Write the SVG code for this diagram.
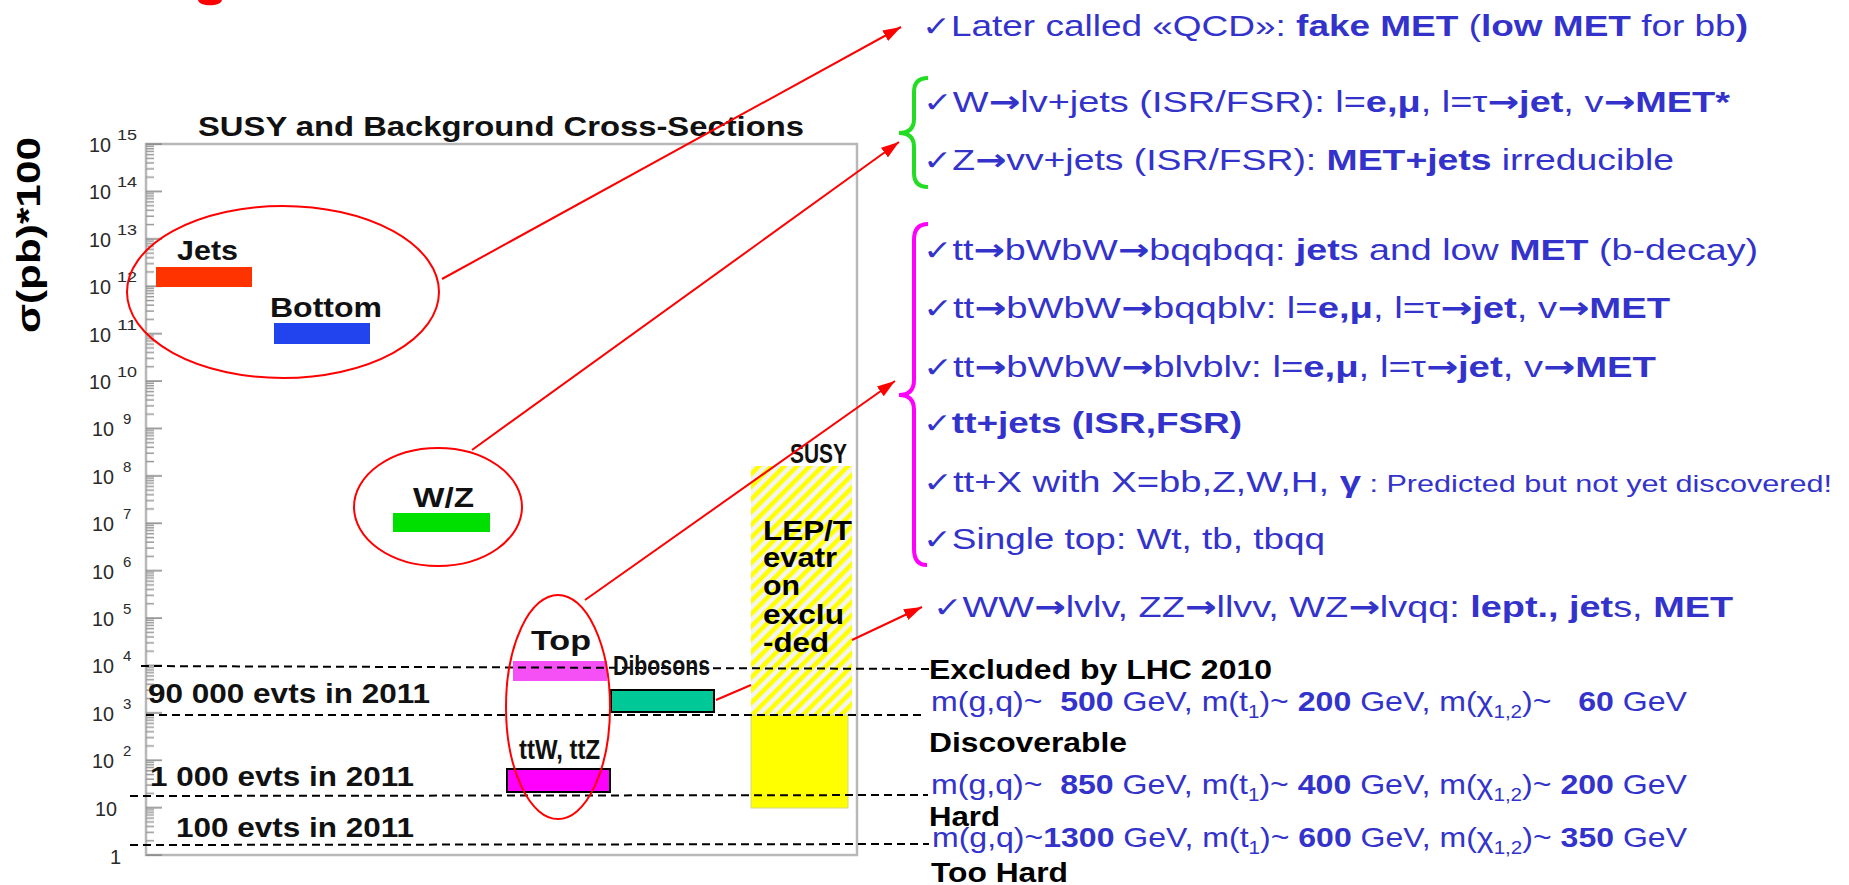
<svg xmlns="http://www.w3.org/2000/svg" width="1849" height="885" viewBox="0 0 1849 885">
<defs>
<style>
text{font-family:'Liberation Sans',Arial,'DejaVu Sans',sans-serif;}
.ax{font-size:20px;fill:#2a2a2a;}
.sup{font-size:15px;fill:#2a2a2a;}
.lbl{font-weight:bold;fill:#111;font-size:28px;}
.blue{fill:#3333cc;font-size:30px;}
.mline{fill:#3333cc;font-size:28px;}
.b{font-weight:bold;}
.ck{font-family:'DejaVu Sans',sans-serif;font-size:28px;font-weight:normal;}
.ar{font-family:'DejaVu Sans',sans-serif;font-weight:bold;}
.blk{font-weight:bold;fill:#000;font-size:28px;}
.ell{fill:none;stroke:#ff0000;stroke-width:2;}
.dash{stroke:#000;stroke-width:2;stroke-dasharray:8 5;fill:none;}
.arrow{stroke:#ff0000;stroke-width:2;fill:none;marker-end:url(#ah);}
.bar{stroke:#000;stroke-width:2;}
</style>
<marker id="ah" markerUnits="userSpaceOnUse" markerWidth="20" markerHeight="14" refX="18" refY="7" orient="auto">
<path d="M0,1 L18,7 L0,13 z" fill="#ff0000"/>
</marker>
<pattern id="ticks" patternUnits="userSpaceOnUse" x="146" y="143" width="20" height="47.4">
<rect x="0" y="0.3" width="16" height="1.6" fill="#8c8c8c"/>
<rect x="0" y="33.4" width="8" height="1.5" fill="#999999"/>
<rect x="0" y="25.1" width="8" height="1.5" fill="#999999"/>
<rect x="0" y="19.2" width="8" height="1.5" fill="#999999"/>
<rect x="0" y="14.6" width="8" height="1.5" fill="#999999"/>
<rect x="0" y="10.8" width="8" height="1.5" fill="#999999"/>
<rect x="0" y="7.6" width="8" height="1.5" fill="#999999"/>
<rect x="0" y="4.9" width="8" height="1.5" fill="#999999"/>
<rect x="0" y="2.5" width="8" height="1.5" fill="#999999"/>
</pattern>
<pattern id="hatch" patternUnits="userSpaceOnUse" width="9" height="9" patternTransform="rotate(45)">
<rect width="9" height="9" fill="#f3f3f3"/>
<rect width="4.5" height="9" fill="#ffff00"/>
</pattern>
</defs>
<rect width="1849" height="885" fill="#ffffff"/>
<path d="M198,0 C199,7 221,7 222,0 Z" fill="#ff0000"/>

<g id="y-axis-label">
<text class="b" font-size="34" fill="#000" transform="translate(40,333) rotate(-90)" textLength="196" lengthAdjust="spacingAndGlyphs">σ(pb)*100</text>
</g>

<g id="chart-frame">
<rect x="146" y="144" width="711" height="711" fill="none" stroke="#b8b8b8" stroke-width="2.5"/>
<rect x="146" y="143" width="17" height="713" fill="url(#ticks)"/>
<text class="ax" x="89" y="152" textLength="22" lengthAdjust="spacingAndGlyphs">10</text><text class="sup" x="117" y="140" textLength="20" lengthAdjust="spacingAndGlyphs">15</text>
<text class="ax" x="89" y="199.4" textLength="22" lengthAdjust="spacingAndGlyphs">10</text><text class="sup" x="117" y="187.4" textLength="20" lengthAdjust="spacingAndGlyphs">14</text>
<text class="ax" x="89" y="246.8" textLength="22" lengthAdjust="spacingAndGlyphs">10</text><text class="sup" x="117" y="234.8" textLength="20" lengthAdjust="spacingAndGlyphs">13</text>
<text class="ax" x="89" y="294.2" textLength="22" lengthAdjust="spacingAndGlyphs">10</text><text class="sup" x="117" y="282.2" textLength="20" lengthAdjust="spacingAndGlyphs">12</text>
<text class="ax" x="89" y="341.6" textLength="22" lengthAdjust="spacingAndGlyphs">10</text><text class="sup" x="117" y="329.6" textLength="20" lengthAdjust="spacingAndGlyphs">11</text>
<text class="ax" x="89" y="389" textLength="22" lengthAdjust="spacingAndGlyphs">10</text><text class="sup" x="117" y="377" textLength="20" lengthAdjust="spacingAndGlyphs">10</text>
<text class="ax" x="92" y="436.4" textLength="22" lengthAdjust="spacingAndGlyphs">10</text><text class="sup" x="123" y="424.4">9</text>
<text class="ax" x="92" y="483.8" textLength="22" lengthAdjust="spacingAndGlyphs">10</text><text class="sup" x="123" y="471.8">8</text>
<text class="ax" x="92" y="531.2" textLength="22" lengthAdjust="spacingAndGlyphs">10</text><text class="sup" x="123" y="519.2">7</text>
<text class="ax" x="92" y="578.6" textLength="22" lengthAdjust="spacingAndGlyphs">10</text><text class="sup" x="123" y="566.6">6</text>
<text class="ax" x="92" y="626" textLength="22" lengthAdjust="spacingAndGlyphs">10</text><text class="sup" x="123" y="614">5</text>
<text class="ax" x="92" y="673.4" textLength="22" lengthAdjust="spacingAndGlyphs">10</text><text class="sup" x="123" y="661.4">4</text>
<text class="ax" x="92" y="720.8" textLength="22" lengthAdjust="spacingAndGlyphs">10</text><text class="sup" x="123" y="708.8">3</text>
<text class="ax" x="92" y="768.2" textLength="22" lengthAdjust="spacingAndGlyphs">10</text><text class="sup" x="123" y="756.2">2</text>
<text class="ax" x="95" y="815.6" textLength="22" lengthAdjust="spacingAndGlyphs">10</text>
<text class="ax" x="110" y="864">1</text>
<text class="lbl" x="198" y="136" font-size="29" textLength="606" lengthAdjust="spacingAndGlyphs">SUSY and Background Cross-Sections</text>
</g>

<g id="jets">
<rect x="156" y="267" width="96" height="20" fill="#ff3300"/>
<text class="lbl" x="177" y="260" textLength="61" lengthAdjust="spacingAndGlyphs">Jets</text>
</g>
<g id="bottom">
<rect x="274" y="323" width="96" height="21" fill="#2244ee"/>
<text class="lbl" x="270" y="317" textLength="112" lengthAdjust="spacingAndGlyphs">Bottom</text>
</g>
<g id="wz">
<rect x="393" y="513" width="97" height="19" fill="#00e000"/>
<text class="lbl" x="413" y="507" textLength="61" lengthAdjust="spacingAndGlyphs">W/Z</text>
</g>
<g id="top">
<rect x="513" y="661" width="94" height="20" fill="#f550f5"/>
<text class="lbl" x="531" y="650" textLength="60" lengthAdjust="spacingAndGlyphs">Top</text>
</g>
<g id="ttwz">
<rect class="bar" x="507" y="769" width="103" height="23" fill="#ff00ff"/>
<text class="lbl" x="519" y="759" font-size="20" textLength="81" lengthAdjust="spacingAndGlyphs">ttW, ttZ</text>
</g>
<g id="dibosons">
<rect class="bar" x="611" y="690" width="103" height="22" fill="#00c896"/>
</g>

<g id="susy">
<text class="lbl" x="790" y="463" font-size="20" textLength="57" lengthAdjust="spacingAndGlyphs">SUSY</text>
<rect x="751" y="466" width="101" height="249" fill="url(#hatch)"/>
<rect x="751" y="715" width="97" height="93" fill="#ffff00" stroke="#d6d690" stroke-width="1"/>
<text class="blk" x="763" y="540" font-size="29" textLength="89" lengthAdjust="spacingAndGlyphs">LEP/T</text>
<text class="blk" x="763" y="567" font-size="29" textLength="74" lengthAdjust="spacingAndGlyphs">evatr</text>
<text class="blk" x="763" y="595" font-size="29" textLength="37" lengthAdjust="spacingAndGlyphs">on</text>
<text class="blk" x="763" y="624" font-size="29" textLength="81" lengthAdjust="spacingAndGlyphs">exclu</text>
<text class="blk" x="763" y="652" font-size="29" textLength="66" lengthAdjust="spacingAndGlyphs">-ded</text>
</g>

<g id="thresholds">
<path class="dash" d="M141,666 L929,669"/>
<path class="dash" d="M146,715 L922,715"/>
<path class="dash" d="M130,796 L928,795"/>
<path class="dash" d="M130,845 L929,844"/>
</g>

<g id="dibosons-label">
<text class="lbl" x="613" y="675" font-size="20" textLength="97" lengthAdjust="spacingAndGlyphs">Dibosons</text>
</g>

<g id="event-labels">
<text class="lbl" x="148" y="703" textLength="282" lengthAdjust="spacingAndGlyphs">90 000 evts in 2011</text>
<text class="lbl" x="150" y="786" textLength="264" lengthAdjust="spacingAndGlyphs">1 000 evts in 2011</text>
<text class="lbl" x="176" y="837" textLength="238" lengthAdjust="spacingAndGlyphs">100 evts in 2011</text>
</g>

<g id="ellipse-qcd"><ellipse class="ell" cx="283" cy="292" rx="156" ry="86"/></g>
<g id="ellipse-wz"><ellipse class="ell" cx="438" cy="507" rx="84" ry="59"/></g>
<g id="ellipse-top"><ellipse class="ell" cx="558" cy="707" rx="52" ry="112"/></g>

<g id="qcd-text">
<text class="blue" x="922" y="36" textLength="826" lengthAdjust="spacingAndGlyphs"><tspan class="ck">✓</tspan>Later called «QCD»: <tspan class="b">fake MET</tspan> (<tspan class="b">low MET</tspan> for bb<tspan class="b">)</tspan></text>
</g>

<g id="wz-text">
<path d="M928,78 Q914,78 914,92 L914,119 Q914,133 899,133 Q914,133 914,147 L914,173 Q914,187 928,187" fill="none" stroke="#22dd22" stroke-width="4"/>
<text class="blue" x="923" y="112" textLength="807" lengthAdjust="spacingAndGlyphs"><tspan class="ck">✓</tspan>W<tspan class="ar">→</tspan>lv+jets (ISR/FSR): l=<tspan class="b">e,μ</tspan>, l=τ<tspan class="ar">→</tspan><tspan class="b">jet</tspan>, v<tspan class="ar">→</tspan><tspan class="b">MET*</tspan></text>
<text class="blue" x="923" y="170" textLength="751" lengthAdjust="spacingAndGlyphs"><tspan class="ck">✓</tspan>Z<tspan class="ar">→</tspan>vv+jets (ISR/FSR): <tspan class="b">MET+jets</tspan> irreducible</text>
</g>

<g id="top-text">
<path d="M928,224 Q914,224 914,240 L914,380 Q914,395 899,395 Q914,395 914,410 L914,549 Q914,565 927,565" fill="none" stroke="#ff00ff" stroke-width="4"/>
<text class="blue" x="923" y="260" textLength="835" lengthAdjust="spacingAndGlyphs"><tspan class="ck">✓</tspan>tt<tspan class="ar">→</tspan>bWbW<tspan class="ar">→</tspan>bqqbqq: <tspan class="b">jet</tspan>s and low <tspan class="b">MET</tspan> (b-decay)</text>
<text class="blue" x="923" y="318" textLength="747" lengthAdjust="spacingAndGlyphs"><tspan class="ck">✓</tspan>tt<tspan class="ar">→</tspan>bWbW<tspan class="ar">→</tspan>bqqblv: l=<tspan class="b">e,μ</tspan>, l=τ<tspan class="ar">→</tspan><tspan class="b">jet</tspan>, v<tspan class="ar">→</tspan><tspan class="b">MET</tspan></text>
<text class="blue" x="923" y="377" textLength="733" lengthAdjust="spacingAndGlyphs"><tspan class="ck">✓</tspan>tt<tspan class="ar">→</tspan>bWbW<tspan class="ar">→</tspan>blvblv: l=<tspan class="b">e,μ</tspan>, l=τ<tspan class="ar">→</tspan><tspan class="b">jet</tspan>, v<tspan class="ar">→</tspan><tspan class="b">MET</tspan></text>
<text class="blue b" x="923" y="433" textLength="319" lengthAdjust="spacingAndGlyphs"><tspan class="ck">✓</tspan>tt+jets (ISR,FSR)</text>
<text class="blue" x="923" y="492" textLength="909" lengthAdjust="spacingAndGlyphs"><tspan class="ck">✓</tspan>tt+X with X=bb,Z,W,H, <tspan class="b">γ</tspan><tspan font-size="24"> : Predicted but not yet discovered!</tspan></text>
<text class="blue" x="923" y="549" textLength="402" lengthAdjust="spacingAndGlyphs"><tspan class="ck">✓</tspan>Single top: Wt, tb, tbqq</text>
</g>

<g id="diboson-text">
<text class="blue" x="933" y="617" textLength="800" lengthAdjust="spacingAndGlyphs"><tspan class="ck">✓</tspan>WW<tspan class="ar">→</tspan>lvlv, ZZ<tspan class="ar">→</tspan>llvv, WZ<tspan class="ar">→</tspan>lvqq: <tspan class="b">lept., jet</tspan>s, <tspan class="b">MET</tspan></text>
</g>

<g id="susy-reach">
<text class="blk" x="929" y="679" textLength="343" lengthAdjust="spacingAndGlyphs">Excluded by LHC 2010</text>
<text class="mline" x="931" y="711" xml:space="preserve" textLength="756" lengthAdjust="spacingAndGlyphs">m(g,q)~  <tspan class="b">500</tspan> GeV, m(t<tspan font-size="18" dy="7">1</tspan><tspan dy="-7">)~ </tspan><tspan class="b">200</tspan> GeV, m(χ<tspan font-size="18" dy="7">1,2</tspan><tspan dy="-7">)~   </tspan><tspan class="b">60</tspan> GeV</text>
<text class="blk" x="929" y="752" textLength="198" lengthAdjust="spacingAndGlyphs">Discoverable</text>
<text class="mline" x="931" y="794" xml:space="preserve" textLength="756" lengthAdjust="spacingAndGlyphs">m(g,q)~  <tspan class="b">850</tspan> GeV, m(t<tspan font-size="18" dy="7">1</tspan><tspan dy="-7">)~ </tspan><tspan class="b">400</tspan> GeV, m(χ<tspan font-size="18" dy="7">1,2</tspan><tspan dy="-7">)~ </tspan><tspan class="b">200</tspan> GeV</text>
<text class="blk" x="929" y="826" textLength="71" lengthAdjust="spacingAndGlyphs">Hard</text>
<text class="mline" x="932" y="847" xml:space="preserve" textLength="755" lengthAdjust="spacingAndGlyphs">m(g,q)~<tspan class="b">1300</tspan> GeV, m(t<tspan font-size="18" dy="7">1</tspan><tspan dy="-7">)~ </tspan><tspan class="b">600</tspan> GeV, m(χ<tspan font-size="18" dy="7">1,2</tspan><tspan dy="-7">)~ </tspan><tspan class="b">350</tspan> GeV</text>
<text class="blk" x="931" y="882" textLength="137" lengthAdjust="spacingAndGlyphs">Too Hard</text>
</g>

<g id="connectors">
<path class="arrow" d="M442,279 L901,27"/>
<path class="arrow" d="M472,450 L899,142"/>
<path class="arrow" d="M585,600 L895,381"/>
<path class="arrow" d="M716,700 L751,685 M852,640 L922,607"/>
</g>
</svg>
